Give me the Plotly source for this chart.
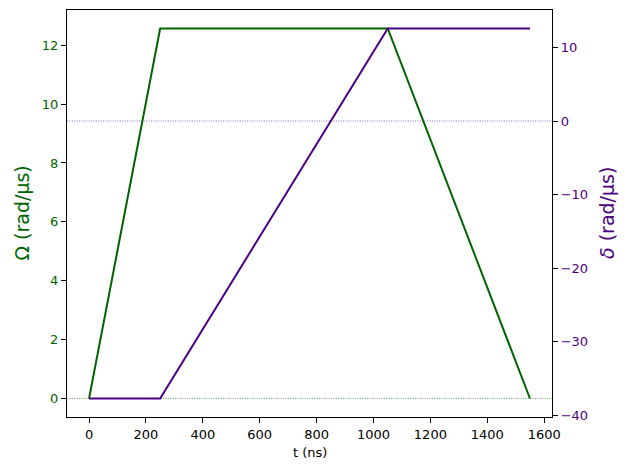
import plotly.graph_objects as go

t_omega = [0, 250, 1050, 1550]
omega = [0.0, 12.566, 12.566, 0.0]
t_delta = [0, 250, 1050, 1550]
delta = [-37.699, -37.699, 12.566, 12.566]

x_ticks = [0, 200, 400, 600, 800, 1000, 1200, 1400, 1600]
y1_ticks = [0, 2, 4, 6, 8, 10, 12]
y2_ticks = [-40, -30, -20, -10, 0, 10]

GREEN = "#006400"
INDIGO = "#4B0082"
FONT = "DejaVu Sans"

fig = go.Figure()
fig.add_trace(go.Scatter(x=t_omega, y=omega, mode="lines",
                         line=dict(color=GREEN, width=2), yaxis="y", showlegend=False))
fig.add_trace(go.Scatter(x=t_delta, y=delta, mode="lines",
                         line=dict(color=INDIGO, width=2), yaxis="y2", showlegend=False))

# reference zero lines
fig.add_shape(type="line", xref="paper", x0=0, x1=1, yref="y", y0=0, y1=0,
              line=dict(color=GREEN, width=0.6, dash="1px,1.4px"), layer="below")
fig.add_shape(type="line", xref="paper", x0=0, x1=1, yref="y2", y0=0, y1=0,
              line=dict(color=INDIGO, width=0.6, dash="1px,1.4px"), layer="below")

def rng(lo, hi):
    m = (hi - lo) * 0.05
    return [lo - m, hi + m]

axis_common = dict(showgrid=False, zeroline=False, showline=True, linecolor="black",
                   linewidth=1.1, ticks="outside", ticklen=5, tickwidth=1, tickcolor="black")

# page body adds an 8px offset; compensate so the plot area lands where the reference has it
fig.update_layout(
    width=614, height=454,
    margin=dict(l=58.5, r=69.5, t=2, b=45),
    paper_bgcolor="white", plot_bgcolor="white",
    font=dict(family=FONT, size=13, color="black"),
    xaxis=dict(range=rng(0, 1550), tickvals=x_ticks, mirror=True,
               tickfont=dict(size=13, color="black"), **axis_common),
    yaxis=dict(range=rng(0, 12.566), tickvals=y1_ticks,
               tickfont=dict(size=13, color=GREEN), **axis_common),
    yaxis2=dict(range=rng(-37.699, 12.566), tickvals=y2_ticks, overlaying="y", side="right",
                tickfont=dict(size=13, color=INDIGO), **axis_common),
    annotations=[
        dict(text="t (ns)", xref="paper", yref="paper", x=0.5, y=0, yshift=-35.5,
             showarrow=False, font=dict(size=13, color="black"), yanchor="middle"),
        dict(text="Ω (rad/μs)", xref="paper", yref="paper", x=0, y=0.5, xshift=-46,
             textangle=-90, showarrow=False, font=dict(size=19, color=GREEN), xanchor="center"),
        dict(text="<i>δ</i> (rad/μs)", xref="paper", yref="paper", x=1, y=0.5, xshift=54.5,
             textangle=-90, showarrow=False, font=dict(size=19, color=INDIGO), xanchor="center"),
    ],
)

fig.write_html("out.html")
